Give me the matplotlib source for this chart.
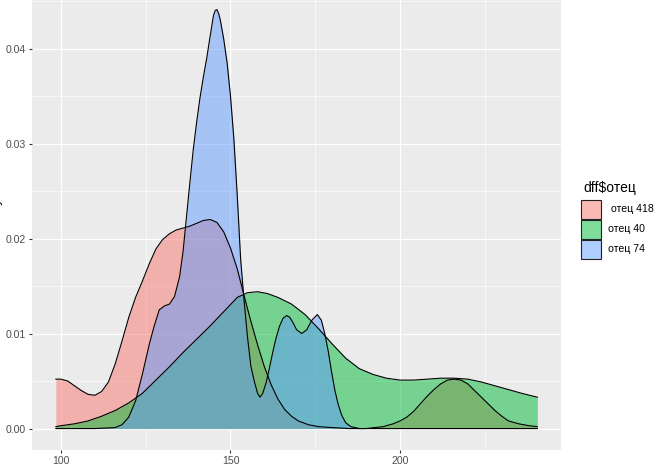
import numpy as np
import matplotlib.pyplot as plt
from matplotlib.patches import Rectangle
from matplotlib.ticker import MultipleLocator, FormatStrFormatter

plt.rcParams['font.family'] = ['Liberation Sans', 'DejaVu Sans']

# группы (уровни фактора) и цвета палитры ggplot
groups = [' отец 418', 'отец 40', 'отец 74']
colors = ['#F8766D', '#00BA38', '#619CFF']
legend_title = 'dff$отец'
y_title = 'density'

# кривые плотности: x и density
red_x = [98.5, 100, 102, 104, 106, 108, 110, 112, 114, 116, 118, 120, 122, 124, 126, 128, 130, 132,
         134, 136, 138, 140, 142, 144, 146, 148, 150, 152, 154, 156, 158, 160, 162, 164, 166, 168,
         170, 173, 176, 180, 185, 190, 195, 198, 200, 202, 204, 206, 208, 210, 212, 214, 216, 218,
         220, 222, 224, 226, 228, 230, 232, 235, 238, 240.5]
red_y = [0.0052, 0.0052, 0.0050, 0.0045, 0.0040, 0.0036, 0.0035, 0.0039, 0.0049, 0.0068,
         0.0092, 0.0117, 0.0138, 0.0155, 0.0173, 0.0189, 0.0199, 0.0205, 0.0209, 0.0211,
         0.0213, 0.0216, 0.0219, 0.0220, 0.0217, 0.0207, 0.0190, 0.0168, 0.0140, 0.0113,
         0.0088, 0.0065, 0.0046, 0.0031, 0.0020, 0.0013, 0.0008, 0.0004, 0.0002, 0.0001,
         0.0000, 0.0000, 0.0002, 0.0005, 0.0008, 0.0012, 0.0018, 0.0026, 0.0034, 0.0041,
         0.0047, 0.0051, 0.0052, 0.0051, 0.0047, 0.0040, 0.0033, 0.0026, 0.0019, 0.0013,
         0.0008, 0.0005, 0.0003, 0.0002]

green_x = [98.5, 100, 104, 108, 112, 116, 120, 124, 128, 132, 136, 140, 144, 148, 152, 155, 158,
           161, 164, 168, 172, 176, 180, 184, 188, 192, 196, 200, 204, 208, 212, 216, 220, 224,
           228, 232, 236, 240.5]
green_y = [0.0002, 0.0003, 0.0005, 0.0008, 0.0013, 0.0019, 0.0027, 0.0037, 0.0051, 0.0065,
           0.0080, 0.0094, 0.0108, 0.0123, 0.0138, 0.0143, 0.0144, 0.0142, 0.0138, 0.0131,
           0.0120, 0.0105, 0.0089, 0.0074, 0.0063, 0.0057, 0.0053, 0.0051, 0.0051, 0.0052,
           0.0053, 0.0053, 0.0052, 0.0049, 0.0045, 0.0041, 0.0037, 0.0033]

blue_x = [98.5, 110, 116, 118, 120, 122, 124, 126, 127.5, 129, 130.5, 132, 133.5, 135, 136, 137,
          138, 139, 140, 141, 142, 143, 144, 145, 145.5, 146, 146.5, 147, 148, 149, 150, 151, 152,
          153, 154, 155, 156, 157, 158, 158.7, 159.5, 160.5, 161.5, 162.5, 163.5, 164.5, 165.5,
          166.6, 167.5, 168.5, 169.5, 171, 172.5, 174, 175.6, 176.8, 177.8, 178.8, 179.8, 180.8,
          181.8, 182.8, 184, 185.5, 188, 200, 240.5]
blue_y = [0.0, 0.0, 0.0001, 0.0004, 0.0012, 0.0029, 0.0057, 0.0088, 0.0108, 0.0125,
          0.0129, 0.0131, 0.0139, 0.0160, 0.0186, 0.0222, 0.0258, 0.0293, 0.0322, 0.0348,
          0.0370, 0.0390, 0.0413, 0.0435, 0.0440, 0.0441, 0.0437, 0.0430, 0.0410, 0.0385,
          0.0350, 0.0305, 0.0245, 0.0178, 0.0135, 0.0097, 0.0066, 0.0050, 0.0037, 0.0033,
          0.0037, 0.0048, 0.0064, 0.0081, 0.0096, 0.0108, 0.0116, 0.0119, 0.0117, 0.0111,
          0.0104, 0.0100, 0.0104, 0.0114, 0.0120, 0.0114, 0.0100, 0.0082, 0.0060, 0.0040,
          0.0025, 0.0014, 0.0006, 0.0002, 0.0, 0.0, 0.0]

series = [(red_x, red_y), (green_x, green_y), (blue_x, blue_y)]

W, H = 654, 466
fig = plt.figure(figsize=(W / 100, H / 100), dpi=100)

# панель (в пикселях картинки); верх панели обрезан краем скриншота
px_l, px_r, px_t, px_b = 31.8, 561.4, -11.4, 449.5
ax = fig.add_axes([px_l / W, 1 - px_b / H, (px_r - px_l) / W, (px_b - px_t) / H])
ax.set_facecolor('#EBEBEB')
for s in ax.spines.values():
    s.set_visible(False)

# отрисовка плотностей: заливка + контур, по группам как в ggplot
for (x, y), c in zip(series, colors):
    ax.fill_between(x, y, color=c, alpha=0.5, lw=0)
    ax.plot(x, y, color='black', lw=0.8)

# пределы с 5% запасом, как scale_continuous
all_x = red_x + green_x + blue_x
all_y = red_y + green_y + blue_y
xspan = max(all_x) - min(all_x)
yspan = max(all_y) - min(all_y)
ax.set_xlim(min(all_x) - 0.05 * xspan, max(all_x) + 0.05 * xspan)
ax.set_ylim(min(all_y) - 0.05 * yspan, max(all_y) + 0.05 * yspan)

ax.xaxis.set_major_locator(MultipleLocator(50))
ax.xaxis.set_minor_locator(MultipleLocator(25))
ax.yaxis.set_major_locator(MultipleLocator(0.01))
ax.yaxis.set_minor_locator(MultipleLocator(0.005))
ax.yaxis.set_major_formatter(FormatStrFormatter('%.2f'))
ax.set_axisbelow(True)
ax.grid(which='major', color='white', lw=0.9)
ax.grid(which='minor', color='white', lw=0.45)
ax.tick_params(which='major', length=2.4, width=0.8, color='#333333',
               labelsize=7.6, labelcolor='#4D4D4D', pad=2)
ax.tick_params(which='minor', length=0)

# подпись оси y: на скриншоте видна только её самая правая кромка
fig.text(2.5 / W, 1 - 219 / H, y_title, rotation=90, ha='right', va='center', fontsize=10)

# легенда вручную
fig.text(583 / W, 1 - 188 / H, legend_title, ha='left', va='center', fontsize=10)
for i, (g, c) in enumerate(zip(groups, colors)):
    top = 200 + i * 20
    fig.add_artist(Rectangle((581 / W, 1 - (top + 19) / H), 20 / W, 19 / H,
                             transform=fig.transFigure, facecolor=c, alpha=0.5, lw=0))
    fig.add_artist(Rectangle((581 / W, 1 - (top + 19) / H), 20 / W, 19 / H,
                             transform=fig.transFigure, facecolor='none',
                             edgecolor='#222222', lw=0.8))
    fig.text(608 / W, 1 - (top + 9.5) / H, g, ha='left', va='center', fontsize=7.6)

plt.savefig('out.png', dpi=100)
plt.close()
